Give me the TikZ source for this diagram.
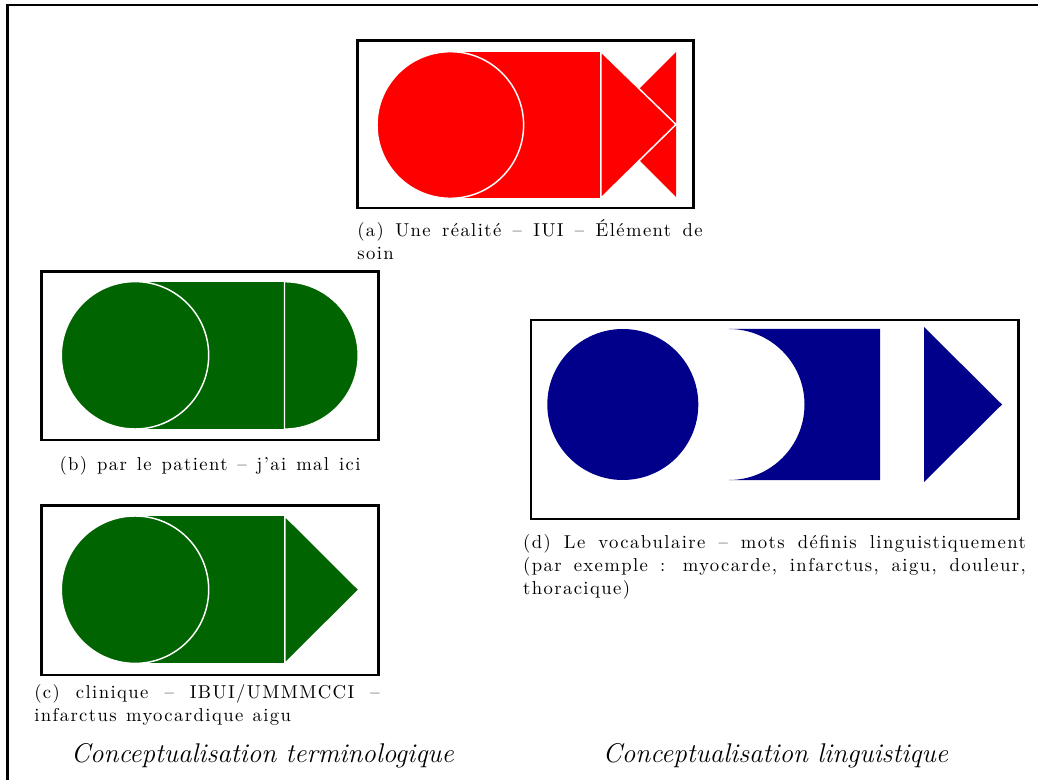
\documentclass[tikz,border=0pt]{standalone}
\usepackage{fontspec}
\usepackage{xcolor}
\usepackage{tikz}
\usetikzlibrary{positioning}
\definecolor{realred}{RGB}{255,0,0}
\definecolor{termgreen}{RGB}{0,100,0}
\definecolor{lingblue}{RGB}{0,0,139}
\newfontfamily\capfamily{lmroman10-regular}[Extension=.otf, Ligatures=TeX,
  LetterSpace=7.5]
\newcommand\capfont{\capfamily\fontsize{14}{17.25}\selectfont}
\hyphenpenalty=10000
\exhyphenpenalty=10000
\tikzset{
  panel/.style={draw=black, line width=1.8pt, inner sep=0pt},
  blob/.style={fill=#1, draw=white, line width=1.1pt},
  caption/.style={inner sep=0pt, text width=259pt, align=justify, font=\capfont,
    execute at begin node={\spaceskip=0.5em plus 0.4em minus 0.12em\strut}},
  oneline/.style={caption, text width=225.75pt,
    execute at begin node={\spaceskip=0.5em plus 0.4em minus 0.3em\strut},
    execute at end node={\parfillskip=0pt}},
  concept/.style={inner sep=0pt, font=\fontsize{20.3}{24}\selectfont\itshape},
}
\begin{document}
\begin{tikzpicture}[x=0.75pt, y=-0.75pt]
  \useasboundingbox (0,0) rectangle (1038,780);
  \draw[line width=2pt] (7.5,780) -- (7.5,5) -- (1038,5);

  % (a) une realite
  \node[panel, minimum width=252pt, minimum height=125.7pt] (pa) at (525.3,124.5) {};
  \fill[realred] (450,51.7) rectangle (600,198);
  \path[blob=realred] (450.3,125) circle[radius=73.3];
  \fill[realred] (640,88) -- (676,52) -- (676,197) -- (640,161) -- cycle;
  \path[blob=realred] (601,51.7) -- (676,124.5) -- (601,198) -- cycle;
  \node[caption, below=7.2pt of pa, xshift=3.5pt] (capa)
    {(a) Une réalité -- IUI -- Élément de\linebreak soin};

  % (b) patient
  \node[panel, minimum width=252.5pt, minimum height=126.2pt] (pb) at (210,355.8) {};
  \fill[termgreen] (135,281.7) rectangle (284,429);
  \path[blob=termgreen] (135,355.3) circle[radius=73.7];
  \path[blob=termgreen] (284.5,281.7) arc[start angle=-90, end angle=90, radius=73.7] -- cycle;
  \node[oneline, below=9.5pt of pb] (capb)
    {(b) par le patient -- j'ai mal ici};

  % (c) clinique
  \node[panel, minimum width=252.5pt, minimum height=127pt] (pc) at (210,590.3) {};
  \fill[termgreen] (135,516) rectangle (284,663.3);
  \path[blob=termgreen] (135,589.7) circle[radius=73.7];
  \path[blob=termgreen] (285,516) -- (359,589.7) -- (285,663.3) -- cycle;
  \node[caption, below=4.2pt of pc, xshift=-2.25pt] (capc)
    {(c) clinique -- IBUI/UMMMCCI --\linebreak infarctus myocardique aigu};

  % (d) vocabulaire
  \node[panel, minimum width=365.7pt, minimum height=149.25pt] (pd) at (774.5,419.5) {};
  \fill[lingblue] (622.8,404.5) circle[radius=75.5];
  \fill[lingblue] (729,329) -- (880,329) -- (880,480) -- (729,480)
    arc[start angle=90, end angle=-90, radius=75.5] -- cycle;
  \fill[lingblue] (924,327) -- (1002,404.5) -- (924,482) -- cycle;
  \node[caption, text width=377pt, below=8.9pt of pd] (capd)
    {(d) Le vocabulaire -- mots définis linguistiquement\linebreak
     (par exemple : myocarde, infarctus, aigu, douleur,\linebreak thoracique)};

  \node[concept, anchor=base] (ct) at (262.5,762) {Conceptualisation terminologique};
  \node[concept, anchor=base] (cl) at (775.5,762) {Conceptualisation linguistique};
\end{tikzpicture}
\end{document}
